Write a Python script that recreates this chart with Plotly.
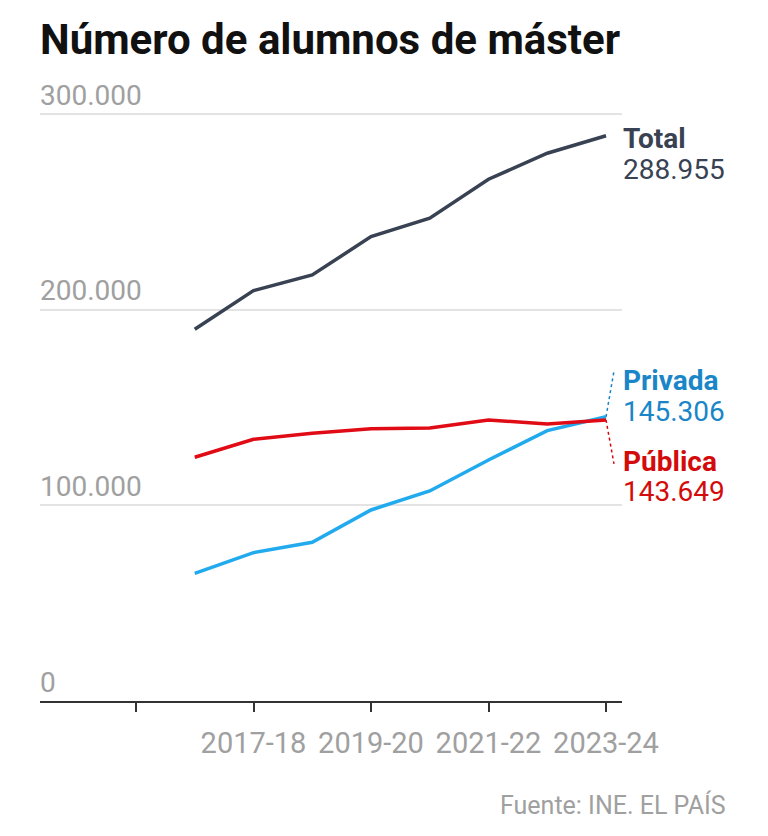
import plotly.graph_objects as go

# ---- data ----
ALL_SEASONS = ["2015-16", "2016-17", "2017-18", "2018-19", "2019-20",
               "2020-21", "2021-22", "2022-23", "2023-24"]
seasons = ["2016-17", "2017-18", "2018-19", "2019-20",
           "2020-21", "2021-22", "2022-23", "2023-24"]
total = [190030, 209760, 217790, 237370, 246780, 266720, 280010, 288955]
privada = [65290, 75820, 81130, 97650, 107360, 123210, 138190, 145306]
publica = [124590, 133790, 136860, 139210, 139570, 143660, 141620, 143649]

x_tickvals = ["2015-16", "2017-18", "2019-20", "2021-22", "2023-24"]
x_ticktext = ["", "2017-18", "2019-20", "2021-22", "2023-24"]
y_tickvals = [0, 100000, 200000, 300000]
y_ticktext = ["0", "100.000", "200.000", "300.000"]

series_names = ["Total", "Privada", "Pública"]
value_labels = ["288.955", "145.306", "143.649"]

# ---- styles ----
C_TOTAL = "#384253"
C_PRIV = "#22aaee"
C_PRIV_TXT = "#1a86c8"
C_PUB = "#e00b14"
C_PUB_TXT = "#d40b0b"
GREY = "#a0a0a0"
FONT = "Roboto, Liberation Sans, sans-serif"

fig = go.Figure()
for name, vals, col in [("Total", total, C_TOTAL),
                        ("Privada", privada, C_PRIV),
                        ("Pública", publica, C_PUB)]:
    fig.add_trace(go.Scatter(x=seasons, y=vals, mode="lines", name=name,
                             line=dict(color=col, width=3.5),
                             showlegend=False, hoverinfo="skip"))

last_x = len(ALL_SEASONS) - 1

annots = []
# y tick labels placed above their gridlines
for v, t in zip(y_tickvals, y_ticktext):
    annots.append(dict(xref="paper", yref="y", x=0, y=v, xanchor="left",
                       yanchor="middle", xshift=-2, yshift=19, showarrow=False,
                       text=t, font=dict(family=FONT, size=28, color=GREY)))

label_cfg = [
    (series_names[0], value_labels[0], total[-1], C_TOTAL, C_TOTAL, -3, -34),
    (series_names[1], value_labels[1], privada[-1], C_PRIV_TXT, C_PRIV_TXT, 36, 5),
    (series_names[2], value_labels[2], publica[-1], C_PUB_TXT, C_PUB_TXT, -42, -72),
]
for nm, vl, yv, c1, c2, s1, s2 in label_cfg:
    annots.append(dict(xref="paper", yref="y", x=1, y=yv, xanchor="left",
                       yanchor="middle", xshift=-1, yshift=s1, showarrow=False,
                       text="<b>%s</b>" % nm,
                       font=dict(family=FONT, size=28, color=c1)))
    annots.append(dict(xref="paper", yref="y", x=1, y=yv, xanchor="left",
                       yanchor="middle", xshift=-1, yshift=s2, showarrow=False,
                       text=vl, font=dict(family=FONT, size=28, color=c2)))

annots.append(dict(xref="paper", yref="paper", x=1, y=0, xanchor="right",
                   yanchor="middle", xshift=106, yshift=-104, showarrow=False,
                   text="Fuente: INE. EL PAÍS",
                   font=dict(family=FONT, size=25, color=GREY)))

shapes = [
    dict(type="line", xref="x", yref="y", xsizemode="pixel", ysizemode="pixel",
         xanchor=last_x, yanchor=privada[-1], x0=0, y0=0, x1=8, y1=46,
         line=dict(color=C_PRIV_TXT, width=1.5, dash="dot")),
    dict(type="line", xref="x", yref="y", xsizemode="pixel", ysizemode="pixel",
         xanchor=last_x, yanchor=publica[-1], x0=0, y0=0, x1=8, y1=-44,
         line=dict(color=C_PUB_TXT, width=1.5, dash="dot")),
]

fig.update_layout(
    width=768, height=836,
    margin=dict(l=32, r=154, t=76, b=143),
    paper_bgcolor="white", plot_bgcolor="white",
    title=dict(text="<b>Número de alumnos de máster</b>", xref="container",
               x=32 / 768, xanchor="left", y=1 - 31 / 836, yanchor="middle",
               font=dict(family=FONT, size=42, color="#111111")),
    annotations=annots,
    shapes=shapes,
    xaxis=dict(type="category", categoryorder="array", categoryarray=ALL_SEASONS,
               range=[-1.634, 8.272], tickmode="array", tickvals=x_tickvals,
               ticktext=x_ticktext, ticks="outside", ticklen=9, tickwidth=2,
               tickcolor="#333333", showline=True, linecolor="#333333",
               linewidth=2, showgrid=False, zeroline=False,
               ticklabelstandoff=6,
               tickfont=dict(family=FONT, size=29, color=GREY)),
    yaxis=dict(range=[0, 315400], tickmode="array", tickvals=y_tickvals,
               showticklabels=False,
               showgrid=True, gridcolor="#e3e3e3", gridwidth=2,
               zeroline=False, showline=False, ticks=""),
)

fig.write_html("out.html")
